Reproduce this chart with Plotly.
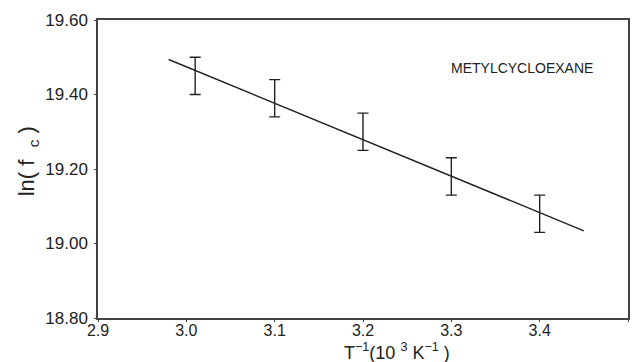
import plotly.graph_objects as go

# Data
inv_T = [3.01, 3.10, 3.20, 3.30, 3.40]
ln_fc = [19.45, 19.39, 19.30, 19.18, 19.08]
err = [0.05, 0.05, 0.05, 0.05, 0.05]

fit_x = [2.98, 3.45]
fit_y = [19.494, 19.034]

x_ticks = [2.9, 3.0, 3.1, 3.2, 3.3, 3.4, 3.5]
x_ticktext = ["2.9", "3.0", "3.1", "3.2", "3.3", "3.4", "3.5"]
y_ticks = [18.8, 19.0, 19.2, 19.4, 19.6]
y_ticktext = ["18.80", "19.00", "19.20", "19.40", "19.60"]

FONT = "Liberation Sans, Arial, sans-serif"
INK = "#222222"

fig = go.Figure()
fig.add_trace(go.Scatter(
    x=fit_x, y=fit_y, mode="lines",
    line=dict(color=INK, width=1.4), showlegend=False, hoverinfo="skip"))
fig.add_trace(go.Scatter(
    x=inv_T, y=ln_fc, mode="markers",
    marker=dict(size=1, color="rgba(0,0,0,0)"),
    error_y=dict(type="data", array=err, symmetric=True,
                 color=INK, thickness=1.4, width=5.5),
    showlegend=False))

axis_common = dict(
    showgrid=False, zeroline=False, showline=True, linecolor="#444444",
    linewidth=1.5, mirror=True, ticks="outside", ticklen=2, tickwidth=1,
    tickcolor="#444444")

fig.update_xaxes(range=[2.9, 3.5], tickvals=x_ticks, ticktext=x_ticktext,
                 ticklabelstandoff=-5,
                 tickfont=dict(family=FONT, size=16, color=INK), **axis_common)
fig.update_yaxes(range=[18.8, 19.6], tickvals=y_ticks, ticktext=y_ticktext,
                 ticklabelstandoff=3,
                 tickfont=dict(family=FONT, size=17, color=INK), **axis_common)

fig.add_annotation(text="METYLCYCLOEXANE", x=3.38, y=19.47, xref="x", yref="y",
                   showarrow=False, font=dict(family=FONT, size=14, color=INK))
fig.add_annotation(text="T<sup>\u22121</sup>(10 <sup>3</sup> K<sup>\u22121</sup> )",
                   x=(398 - 98) / (630 - 98), y=(318 - 364) / (318 - 20),
                   xref="paper", yref="paper", borderpad=0,
                   xanchor="center", yanchor="bottom", showarrow=False,
                   font=dict(family=FONT, size=18, color=INK))
fig.add_annotation(text="ln( f  <sub>c</sub> )",
                   x=(28 - 98) / (630 - 98), y=(318 - 161) / (318 - 20),
                   xref="paper", yref="paper",
                   xanchor="center", yanchor="middle", textangle=-90, showarrow=False,
                   font=dict(family=FONT, size=22, color=INK))

fig.update_layout(
    width=638, height=362,
    margin=dict(l=98, r=8, t=20, b=44),
    paper_bgcolor="white", plot_bgcolor="white",
)

fig.write_html("out.html")
